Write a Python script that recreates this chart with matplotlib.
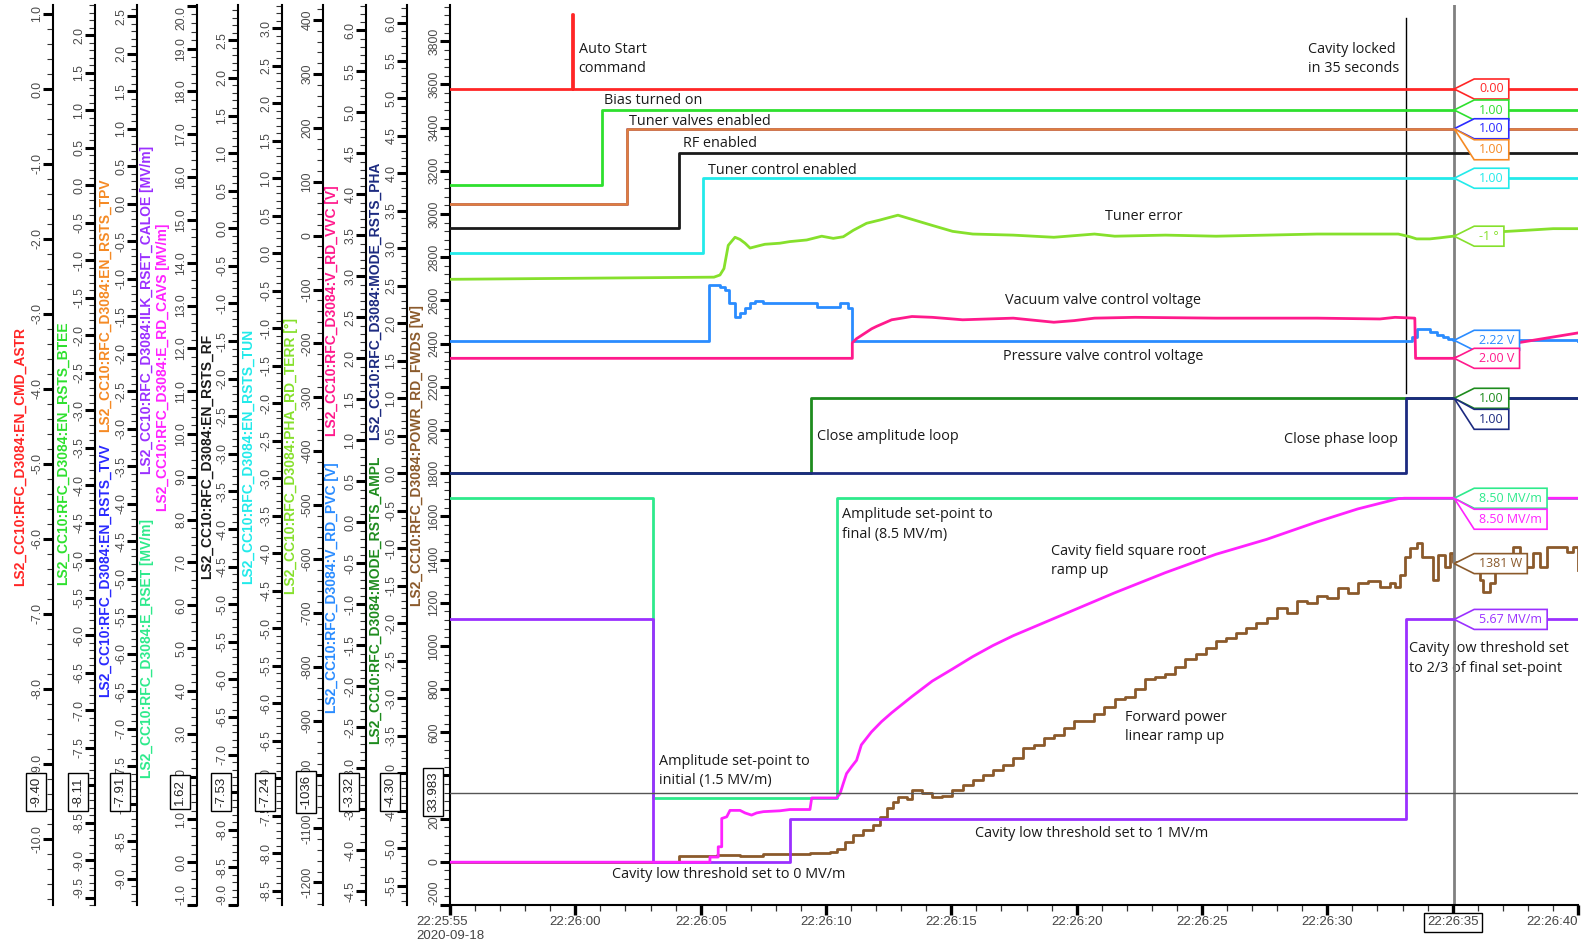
import matplotlib
matplotlib.use("Agg")
import matplotlib.pyplot as plt
import matplotlib.transforms as mtransforms
from matplotlib.patches import Polygon
from matplotlib.ticker import MultipleLocator, FormatStrFormatter

plt.rcParams['font.family'] = ['Liberation Sans', 'DejaVu Sans']
plt.rcParams['axes.unicode_minus'] = False

W, H = 1589, 944
fig = plt.figure(figsize=(W / 100, H / 100), dpi=100, facecolor='white')

# ---------------- data (time = seconds after 22:25:55, 2020-09-18) ----------------
x_ticks = [0, 5, 10, 15, 20, 25, 30, 35, 40, 45]
x_labels = ['22:25:55\n2020-09-18', '22:26:00', '22:26:05', '22:26:10', '22:26:15',
            '22:26:20', '22:26:25', '22:26:30', '22:26:35', '22:26:40']

astr_t = [0, 4.88, 4.91, 45]
astr_v = [0, 1, 0, 0]
btee_t = [0, 6.06, 45]
btee_v = [0, 1, 1]
tpv_t = [0, 7.07, 45]
tpv_v = [0, 1, 1]
tvv_t = [0, 7.07, 45]
tvv_v = [0, 1, 1]
rf_t = [0, 9.13, 45]
rf_v = [0, 1, 1]
tun_t = [0, 10.10, 45]
tun_v = [0, 1, 1]
ampl_t = [0, 14.39, 45]
ampl_v = [0, 1, 1]
pha_t = [0, 38.12, 45]
pha_v = [0, 1, 1]

rset_t = [0, 8.09, 15.42, 45]
rset_v = [8.5, 1.5, 8.5, 8.5]
caloe_t = [0, 8.09, 13.56, 38.12, 45]
caloe_v = [5.67, 0, 1.0, 5.67, 5.67]

cavs_t = [0, 10.37, 10.37, 10.70, 10.70, 10.84, 10.84, 11.04, 11.17, 11.57, 11.77, 12.03,
          12.23, 12.50, 13.16, 13.56, 14.36, 14.43, 15.42, 15.56, 15.69, 15.82, 16.02, 16.22,
          16.41, 16.81, 17.21, 17.62, 18.43, 19.24, 20.04, 20.85, 21.66, 22.47, 24.49, 26.51,
          28.53, 30.55, 32.58, 34.60, 36.21, 37.83, 38.07, 45]
cavs_v = [0, 0, 0.12, 0.12, 0.36, 0.36, 1.02, 1.06, 1.21, 1.21, 1.15, 1.10,
          1.15, 1.18, 1.20, 1.23, 1.23, 1.50, 1.50, 1.60, 1.84, 2.07, 2.23, 2.38,
          2.74, 3.04, 3.28, 3.49, 3.87, 4.23, 4.51, 4.80, 5.06, 5.29, 5.79, 6.29,
          6.76, 7.19, 7.54, 7.95, 8.25, 8.49, 8.50, 8.50]

terr_t = [0, 10.53, 10.77, 10.93, 11.10, 11.37, 11.57, 11.77, 11.97, 12.30, 12.56, 13.16,
          13.56, 14.23, 14.83, 15.29, 15.69, 16.09, 16.62, 17.15, 17.87, 19.24, 20.05, 20.86,
          22.47, 24.09, 25.71, 26.52, 28.54, 30.56, 32.58, 34.60, 37.83, 38.29, 38.56, 39.09,
          39.49, 40.02, 41.82, 42.95, 44.01, 45]
terr_v = [-81, -77, -73, -61, -18, -3, -7, -14, -23, -19, -16, -14,
          -11, -8, -1, -5, -2, 10, 23, 29, 38, 19, 8, 3,
          1, -3, 3, -1, 1, -1, 1, 3, 3, -2, -6, -6,
          -4, -1, 7, 10, 13, 13]

pvc_t = [0, 10.33, 10.70, 10.77, 10.97, 11.14, 11.37, 11.57, 11.77, 11.97, 12.17, 12.50,
         13.16, 13.96, 14.63, 15.03, 15.56, 15.89, 16.05, 38.29, 38.36, 38.56, 38.82, 39.09,
         39.36, 39.62, 39.82, 40.02, 45]
pvc_v = [2.21, 2.89, 2.89, 2.87, 2.83, 2.67, 2.51, 2.55, 2.61, 2.67, 2.70, 2.67,
         2.67, 2.67, 2.62, 2.63, 2.67, 2.61, 2.21, 2.21, 2.26, 2.36, 2.36, 2.32,
         2.29, 2.26, 2.23, 2.22, 2.21]

vvc_t = [0, 16.05, 16.05, 16.22, 16.42, 16.62, 16.82, 17.02, 17.62, 18.43, 19.24, 20.45,
         22.47, 24.09, 24.90, 25.71, 27.33, 30.56, 34.60, 37.10, 37.70, 38.49, 38.52, 40.02,
         42.41, 45]
vvc_v = [2.00, 2.00, 2.19, 2.24, 2.28, 2.32, 2.36, 2.39, 2.47, 2.51, 2.50, 2.47,
         2.49, 2.44, 2.46, 2.49, 2.50, 2.49, 2.49, 2.48, 2.50, 2.49, 2.00, 2.00,
         2.18, 2.31]

fwds_t = [0, 9.15, 10.64, 11.57, 12.50, 13.43, 14.36, 15.16, 15.42, 15.76, 16.09, 16.49,
          16.89, 17.15, 17.42, 17.68, 17.88, 18.22, 18.43, 18.83, 19.24, 19.64, 20.04, 20.45,
          20.85, 21.26, 21.66, 22.07, 22.47, 22.87, 23.28, 23.68, 24.09, 24.49, 24.90, 25.30,
          25.70, 26.11, 26.51, 26.92, 27.32, 27.72, 28.13, 28.53, 28.94, 29.34, 29.75, 30.15,
          30.55, 30.96, 31.36, 31.77, 32.17, 32.58, 32.98, 33.38, 33.79, 34.19, 34.60, 35.00,
          35.41, 35.81, 36.21, 36.62, 37.10, 37.50, 37.70, 37.90, 38.10, 38.30, 38.56, 38.76,
          38.96, 39.22, 39.42, 39.69, 39.89, 40.02, 41.08, 41.20, 41.49, 41.69, 42.42, 42.68,
          42.95, 43.22, 43.48, 43.75, 44.28, 44.55, 44.82, 45.0]
fwds_v = [0, 25, 32, 28, 34, 36, 42, 46, 58, 93, 124, 147,
          170, 208, 247, 278, 298, 289, 331, 317, 298, 303, 331, 355,
          378, 401, 425, 448, 481, 528, 542, 575, 589, 622, 650, 650,
          683, 716, 753, 763, 800, 847, 857, 871, 903, 941, 964, 988,
          1021, 1035, 1058, 1082, 1105, 1129, 1176, 1152, 1208, 1199, 1232, 1222,
          1269, 1246, 1293, 1300, 1275, 1290, 1275, 1329, 1413, 1452, 1475, 1413,
          1413, 1306, 1421, 1367, 1429, 1390, 1306, 1251, 1290, 1344, 1460, 1367,
          1367, 1429, 1367, 1460, 1460, 1437, 1460, 1352]

cursor_t = 40.06
locked_t = 38.12

# ---------------- colours ----------------
C = dict(red='#ff2626', green='#2ee02e', orange='#f58a24', orline='#e07f3e', blue='#2a2aff',
         purple='#9b30ff', spring='#2eea8c', magenta='#ff22ff', black='#1a1a1a',
         cyan='#22eaea', chart='#86e02c', pink='#ff1a8c', dodger='#2a8cff',
         navy='#1c2a80', dkgreen='#1e8c1e', brown='#8b5a2b')

# ---------------- layout ----------------
X0, X1, Y0, Y1 = 450, 1578, 5, 905
ax = fig.add_axes([X0 / W, 1 - Y1 / H, (X1 - X0) / W, (Y1 - Y0) / H])
ax.set_xlim(0, 45)
ax.patch.set_visible(False)
ax.set_zorder(5)
renderer = fig.canvas.get_renderer()


def style_y(a, lim, major, minor, fmt):
    a.set_ylim(*lim)
    a.yaxis.set_major_locator(MultipleLocator(major))
    a.yaxis.set_minor_locator(MultipleLocator(minor))
    a.yaxis.set_major_formatter(FormatStrFormatter(fmt))
    a.tick_params(axis='y', which='major', direction='out', length=7, width=2.2,
                  color='black', labelsize=8.8, labelcolor='#4a4a4a', pad=0,
                  labelrotation=90, left=True, right=False, labelleft=True, labelright=False)
    a.tick_params(axis='y', which='minor', direction='out', length=4, width=0.8,
                  color='#333333', left=True, right=False)
    plt.setp(a.get_yticklabels(), va='center')
    # keep labels that sit at the very edge inside the plot height
    locs = a.yaxis.get_majorticklocs()
    ticks = a.yaxis.get_major_ticks(len(locs))
    ybot = a.transAxes.transform((0, 0))[1]
    ytop = a.transAxes.transform((0, 1))[1]
    for v, tk in zip(locs, ticks):
        if not (lim[0] <= v <= lim[1]):
            continue
        yp = a.transData.transform((0, v))[1]
        half = tk.label1.get_window_extent(renderer).height / 2
        if yp + half > ytop + 1:
            tk.label1.set_va('top')
        elif yp - half < ybot - 1:
            tk.label1.set_va('bottom')


axes_spec = [
    ('astr', 53, (-10.88, 1.12), 1.0, 0.2, '%.1f'),
    ('btee', 95, (-9.6, 2.4), 0.5, 0.1, '%.1f'),
    ('tv', 137, (-9.35, 2.65), 0.5, 0.1, '%.1f'),
    ('e', 197, (-1.0, 20.02), 1.0, 0.2, '%.1f'),
    ('rf', 238, (-9.0, 2.97), 0.5, 0.1, '%.1f'),
    ('tun', 282, (-8.69, 3.31), 0.5, 0.1, '%.1f'),
    ('terr', 323, (-1242, 428), 100, 20, '%d'),
    ('v', 366, (-4.667, 6.309), 0.5, 0.1, '%.1f'),
    ('mode', 407, (-5.756, 6.244), 0.5, 0.1, '%.1f'),
]
A = {}
for key, px, lim, mj, mn, fmt in axes_spec:
    a = ax.twinx()
    a.yaxis.set_label_position('left')
    for s in ('right', 'top', 'bottom'):
        a.spines[s].set_visible(False)
    a.spines['left'].set_visible(True)
    a.spines['left'].set_position(('axes', (px - X0) / (X1 - X0)))
    a.spines['left'].set_linewidth(1.5)
    style_y(a, lim, mj, mn, fmt)
    A[key] = a

# main axis = forward power
A['powr'] = ax
style_y(ax, (-200, 3968), 200, 40, '%d')
for s in ('right', 'top'):
    ax.spines[s].set_visible(False)
ax.spines['left'].set_linewidth(1.5)
ax.spines['bottom'].set_linewidth(1.5)
ax.set_xticks(x_ticks)
ax.set_xticklabels(x_labels)
ax.xaxis.set_minor_locator(MultipleLocator(1))
ax.tick_params(axis='x', which='major', direction='out', length=7.2, width=2.4, color='black',
               labelsize=9.5, labelcolor='#444444', pad=1)
ax.tick_params(axis='x', which='minor', direction='out', length=4, width=0.9, color='#333333')
xl = ax.get_xticklabels()
xl[0].set_multialignment('left')
xl[8].set_bbox(dict(boxstyle='square,pad=0.25', fc='white', ec='black', lw=1))
xl[9].set_ha('right')

# ---------------- traces ----------------
lw = 2.0
A['astr'].plot(astr_t, astr_v, color=C['red'], lw=lw, drawstyle='steps-post')
A['btee'].plot(btee_t, btee_v, color=C['green'], lw=lw, drawstyle='steps-post')
A['tv'].plot(tvv_t, tvv_v, color=C['blue'], lw=lw, drawstyle='steps-post')
A['tv'].plot(tpv_t, tpv_v, color=C['orline'], lw=lw, drawstyle='steps-post')
A['rf'].plot(rf_t, rf_v, color=C['black'], lw=lw, drawstyle='steps-post')
A['tun'].plot(tun_t, tun_v, color=C['cyan'], lw=lw, drawstyle='steps-post')
A['terr'].plot(terr_t, terr_v, color=C['chart'], lw=lw)
A['v'].plot(pvc_t, pvc_v, color=C['dodger'], lw=lw, drawstyle='steps-post')
A['v'].plot(vvc_t, vvc_v, color=C['pink'], lw=lw)
A['mode'].plot(ampl_t, ampl_v, color=C['dkgreen'], lw=lw, drawstyle='steps-post')
A['mode'].plot(pha_t, pha_v, color=C['navy'], lw=lw, drawstyle='steps-post')
A['e'].plot(rset_t, rset_v, color=C['spring'], lw=lw, drawstyle='steps-post')
A['e'].plot(caloe_t, caloe_v, color=C['purple'], lw=lw, drawstyle='steps-post')
A['e'].plot(cavs_t, cavs_v, color=C['magenta'], lw=lw)
ax.plot(fwds_t, fwds_v, color=C['brown'], lw=lw, drawstyle='steps-post')

# cursors / markers
A['e'].axhline(1.62, color='#555555', lw=1)
ax.axvline(cursor_t, color='#808080', lw=2)
ax.axvline(locked_t, ymin=0.569, ymax=0.986, color='black', lw=1)

# ---------------- annotations ----------------
bt = mtransforms.blended_transform_factory(ax.transData, ax.transAxes)
notes = [
    (5.13, 0.9397, 'Auto Start\ncommand'),
    (6.14, 0.8941, 'Bias turned on'),
    (7.15, 0.8704, 'Tuner valves enabled'),
    (9.29, 0.8457, 'RF enabled'),
    (10.30, 0.8164, 'Tuner control enabled'),
    (26.15, 0.7646, 'Tuner error'),
    (22.15, 0.6722, 'Vacuum valve control voltage'),
    (22.07, 0.6092, 'Pressure valve control voltage'),
    (14.63, 0.5202, 'Close amplitude loop'),
    (33.26, 0.5169, 'Close phase loop'),
    (34.23, 0.9402, 'Cavity locked\nin 35 seconds'),
    (15.64, 0.4229, 'Amplitude set-point to\nfinal (8.5 MV/m)'),
    (23.96, 0.3823, 'Cavity field square root\nramp up'),
    (26.92, 0.1977, 'Forward power\nlinear ramp up'),
    (38.27, 0.2737, 'Cavity low threshold set\nto 2/3 of final set-point'),
    (8.32, 0.1492, 'Amplitude set-point to\ninitial (1.5 MV/m)'),
    (20.93, 0.0789, 'Cavity low threshold set to 1 MV/m'),
    (6.46, 0.0338, 'Cavity low threshold set to 0 MV/m'),
]
for tx, ty, s in notes:
    fig.text(tx, ty, s, transform=bt, ha='left', va='center', fontsize=10.4,
             family=['Open Sans', 'DejaVu Sans'], color='#1a1a1a', linespacing=1.4, zorder=4)

# ---------------- axis titles (left) ----------------
titles = [
    (20, 456, 'LS2_CC10:RFC_D3084:EN_CMD_ASTR', C['red']),
    (63, 453, 'LS2_CC10:RFC_D3084:EN_RSTS_BTEE', C['green']),
    (105, 305, 'LS2_CC10:RFC_D3084:EN_RSTS_TPV', C['orange']),
    (105, 570, 'LS2_CC10:RFC_D3084:EN_RSTS_TVV', C['blue']),
    (147, 310, 'LS2_CC10:RFC_D3084:ILK_RSET_CALOE [MV/m]', C['purple']),
    (147, 648, 'LS2_CC10:RFC_D3084:E_RSET [MV/m]', C['spring']),
    (163, 367, 'LS2_CC10:RFC_D3084:E_RD_CAVS [MV/m]', C['magenta']),
    (207, 456, 'LS2_CC10:RFC_D3084:EN_RSTS_RF', C['black']),
    (248, 456, 'LS2_CC10:RFC_D3084:EN_RSTS_TUN', C['cyan']),
    (291, 456, 'LS2_CC10:RFC_D3084:PHA_RD_TERR [°]', C['chart']),
    (332, 311, 'LS2_CC10:RFC_D3084:V_RD_VVC [V]', C['pink']),
    (332, 588, 'LS2_CC10:RFC_D3084:V_RD_PVC [V]', C['dodger']),
    (375, 301, 'LS2_CC10:RFC_D3084:MODE_RSTS_PHA', C['navy']),
    (375, 600, 'LS2_CC10:RFC_D3084:MODE_RSTS_AMPL', C['dkgreen']),
    (417, 456, 'LS2_CC10:RFC_D3084:POWR_RD_FWDS [W]', C['brown']),
]
for x, y, s, c in titles:
    fig.text(x / W, 1 - y / H, s, rotation=90, ha='center', va='center', fontsize=10,
             fontweight='bold', color=c)

# left cursor readouts
readouts = [(53, '-9.40'), (95, '-8.11'), (137, '-7.91'), (197, '1.62'), (238, '-7.53'),
            (282, '-7.24'), (323, '-1036'), (366, '-3.32'), (407, '-4.30'), (450, '33.983')]
for px, s in readouts:
    fig.text((px - 17) / W, 1 - 792 / H, s, rotation=90, ha='center', va='center',
             fontsize=9.5, color='#222222', zorder=6,
             bbox=dict(boxstyle='square,pad=0.3', fc='white', ec='black', lw=1))

# right value flags at the cursor
flags = [
    ('astr', 0.0, '0.00', C['red'], 0),
    ('btee', 1.0, '1.00', C['green'], 0),
    ('tv', 1.0, '1.00', C['blue'], 0),
    ('tv', 1.0, '1.00', C['orange'], 21),
    ('tun', 1.0, '1.00', C['cyan'], 0),
    ('terr', -1, '-1 °', C['chart'], 0),
    ('v', 2.22, '2.22 V', C['dodger'], 0),
    ('v', 2.00, '2.00 V', C['pink'], 0),
    ('mode', 1.0, '1.00', C['dkgreen'], 0),
    ('mode', 1.0, '1.00', C['navy'], 21),
    ('e', 8.5, '8.50 MV/m', C['spring'], 0),
    ('e', 8.5, '8.50 MV/m', C['magenta'], 21),
    ('powr', 1381, '1381 W', C['brown'], 0),
    ('e', 5.67, '5.67 MV/m', C['purple'], 0),
]
for key, val, s, col, dy in flags:
    tx, ty = A[key].transData.transform((cursor_t, val))
    cy = ty - dy
    left = tx + 20
    t = fig.text(0, 0, s, fontsize=9, color=col, family=['Open Sans', 'DejaVu Sans'],
                 ha='center', va='center', zorder=7)
    bb = t.get_window_extent(renderer)
    w = bb.width + 10
    h = 20
    verts = [(tx, ty), (left, cy + h / 2), (left + w, cy + h / 2),
             (left + w, cy - h / 2), (left, cy - h / 2)]
    poly = Polygon([(vx / W, vy / H) for vx, vy in verts], closed=True,
                   transform=fig.transFigure, fc='white', ec=col, lw=1.2, zorder=6)
    fig.add_artist(poly)
    t.set_position(((left + w / 2) / W, cy / H))

fig.savefig('out.png', dpi=100, facecolor='white')
